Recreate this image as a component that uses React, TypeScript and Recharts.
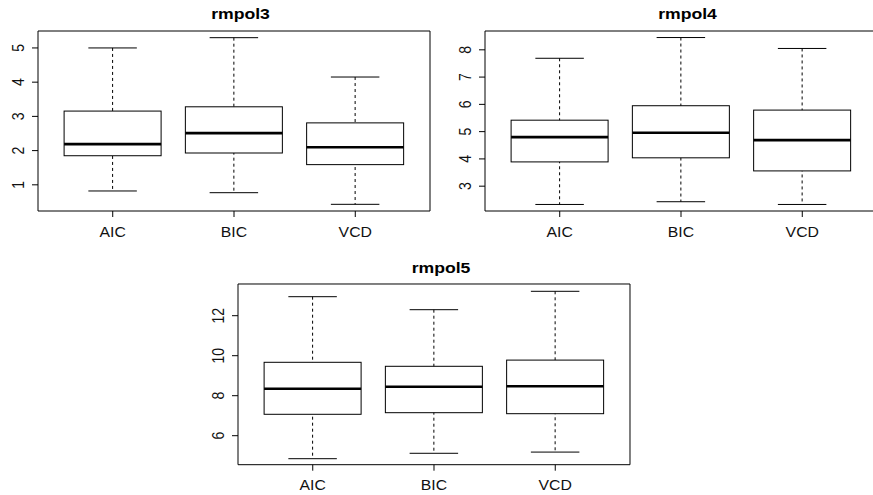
import React from 'react';
import { ComposedChart, Bar, XAxis, YAxis } from 'recharts';

const categories = ['AIC', 'BIC', 'VCD'];
const titles = ['rmpol3', 'rmpol4', 'rmpol5'];

// rmpol3
const p3Lower = [0.82, 0.77, 0.43];
const p3Q1 = [1.85, 1.93, 1.59];
const p3Median = [2.19, 2.51, 2.1];
const p3Q3 = [3.155, 3.28, 2.81];
const p3Upper = [5.0, 5.3, 4.15];
const p3Ticks = [1, 2, 3, 4, 5];

// rmpol4
const p4Lower = [2.33, 2.43, 2.33];
const p4Q1 = [3.89, 4.04, 3.56];
const p4Median = [4.8, 4.96, 4.69];
const p4Q3 = [5.42, 5.95, 5.79];
const p4Upper = [7.69, 8.45, 8.05];
const p4Ticks = [3, 4, 5, 6, 7, 8];

// rmpol5
const p5Lower = [4.85, 5.12, 5.18];
const p5Q1 = [7.07, 7.15, 7.1];
const p5Median = [8.35, 8.45, 8.47];
const p5Q3 = [9.67, 9.47, 9.78];
const p5Upper = [12.95, 12.3, 13.22];
const p5Ticks = [6, 8, 10, 12];

const buildRows = (lower: number[], q1: number[], median: number[], q3: number[], upper: number[]) =>
  categories.map((name, i) => ({ name, lower: lower[i], q1: q1[i], median: median[i], q3: q3[i], upper: upper[i] }));

const FONT = '"Liberation Sans", Arial, Helvetica, sans-serif';
const STRETCH = 1.13;
const TICK_FONT = 14;

const XTick = (props: any) => {
  const { x, y, payload } = props;
  return (
    <text
      x={0}
      y={0}
      transform={`translate(${x},${y}) scale(${STRETCH},1)`}
      textAnchor="middle"
      fontSize={TICK_FONT}
      fontFamily={FONT}
      fill="#111"
    >
      {payload.value}
    </text>
  );
};

const YTick = (props: any) => {
  const { x, y, payload } = props;
  return (
    <text
      x={0}
      y={0}
      transform={`translate(${x},${y}) scale(${STRETCH},1) rotate(-90)`}
      textAnchor="middle"
      fontSize={TICK_FONT}
      fontFamily={FONT}
      fill="#111"
    >
      {payload.value}
    </text>
  );
};

const WhiskerShape = (props: any) => {
  const { x, y, width, height } = props;
  const top = Math.min(y, y + height);
  const bottom = Math.max(y, y + height);
  const cx = x + width / 2;
  const cap = width / 4;
  return (
    <g>
      <line x1={cx} x2={cx} y1={top} y2={bottom} stroke="#000" strokeWidth={1} strokeDasharray="3 3" />
      <line x1={cx - cap} x2={cx + cap} y1={top} y2={top} stroke="#000" strokeWidth={1} />
      <line x1={cx - cap} x2={cx + cap} y1={bottom} y2={bottom} stroke="#000" strokeWidth={1} />
    </g>
  );
};

const BoxShape = (props: any) => {
  const { x, y, width, height } = props;
  const top = Math.min(y, y + height);
  const h = Math.abs(height);
  return <rect x={x} y={top} width={width} height={h} fill="#fff" stroke="#000" strokeWidth={1} />;
};

const MedianShape = (props: any) => {
  const { x, y, width } = props;
  return <line x1={x} x2={x + width} y1={y} y2={y} stroke="#000" strokeWidth={2.6} />;
};

type PanelProps = {
  rows: any[];
  domain: [number, number];
  ticks: number[];
  left: number;
  top: number;
  plotH: number;
};

const PAD = { left: 14.1, right: 14.1 };
const CHART_W = 440;
const MARGIN_TOP = 30;
const TOP_AXIS_H = 1;
const AXIS_H = 39;

const Panel = ({ rows, domain, ticks, left, top, plotH }: PanelProps) => (
  <div style={{ position: 'absolute', left, top }}>
    <ComposedChart
      width={CHART_W}
      height={MARGIN_TOP + TOP_AXIS_H + plotH + AXIS_H}
      data={rows}
      margin={{ top: MARGIN_TOP, right: 0, bottom: 0, left: 0 }}
    >
      <XAxis
        xAxisId="a"
        dataKey="name"
        type="category"
        orientation="bottom"
        height={AXIS_H}
        padding={PAD}
        interval={0}
        tickSize={6}
        tickMargin={19.8}
        tick={<XTick />}
        axisLine={{ stroke: '#000' }}
        tickLine={{ stroke: '#000' }}
      />
      <XAxis
        xAxisId="b"
        dataKey="name"
        type="category"
        orientation="top"
        height={TOP_AXIS_H}
        padding={PAD}
        tick={false}
        tickLine={false}
        axisLine={{ stroke: '#000' }}
      />
      <XAxis xAxisId="z" dataKey="name" type="category" orientation="bottom" hide padding={PAD} />
      <YAxis
        yAxisId="v"
        type="number"
        domain={domain}
        allowDataOverflow
        ticks={ticks}
        interval={0}
        width={38}
        tickSize={6}
        tickMargin={8}
        tick={<YTick />}
        axisLine={{ stroke: '#000' }}
        tickLine={{ stroke: '#000' }}
      />
      <YAxis
        yAxisId="w"
        type="number"
        orientation="right"
        domain={[0, 1]}
        width={10}
        tick={false}
        tickLine={false}
        axisLine={{ stroke: '#000' }}
      />
      <Bar
        xAxisId="b"
        yAxisId="v"
        dataKey={(d: any) => [d.lower, d.upper]}
        barSize={97}
        shape={WhiskerShape}
        isAnimationActive={false}
      />
      <Bar
        xAxisId="a"
        yAxisId="v"
        dataKey={(d: any) => [d.q1, d.q3]}
        barSize={97}
        shape={BoxShape}
        isAnimationActive={false}
      />
      <Bar
        xAxisId="z"
        yAxisId="v"
        dataKey={(d: any) => [d.median, d.median]}
        barSize={97}
        shape={MedianShape}
        isAnimationActive={false}
      />
    </ComposedChart>
  </div>
);

const titlePos = [
  { x: 240.5, y: 19.3 },
  { x: 687.5, y: 19.3 },
  { x: 441, y: 272.6 },
];

export default function App() {
  return (
    <div
      style={{
        position: 'absolute',
        left: 0,
        top: 0,
        width: 873,
        height: 495,
        overflow: 'hidden',
        background: '#fff',
        fontFamily: FONT,
      }}
    >
      <Panel
        rows={buildRows(p3Lower, p3Q1, p3Median, p3Q3, p3Upper)}
        domain={[0.235, 5.495]}
        ticks={p3Ticks}
        left={0}
        top={0}
        plotH={180}
      />
      <Panel
        rows={buildRows(p4Lower, p4Q1, p4Median, p4Q3, p4Upper)}
        domain={[2.09, 8.69]}
        ticks={p4Ticks}
        left={446.7}
        top={0}
        plotH={180}
      />
      <Panel
        rows={buildRows(p5Lower, p5Q1, p5Median, p5Q3, p5Upper)}
        domain={[4.55, 13.585]}
        ticks={p5Ticks}
        left={199.7}
        top={253.3}
        plotH={180.7}
      />
      <svg width={873} height={495} style={{ position: 'absolute', left: 0, top: 0, pointerEvents: 'none' }}>
        {titles.map((t, i) => (
          <text
            key={t}
            x={0}
            y={0}
            transform={`translate(${titlePos[i].x},${titlePos[i].y}) scale(1.26,1)`}
            textAnchor="middle"
            fontSize={14}
            fontWeight="bold"
            fontFamily={FONT}
            fill="#000"
          >
            {t}
          </text>
        ))}
      </svg>
    </div>
  );
}
